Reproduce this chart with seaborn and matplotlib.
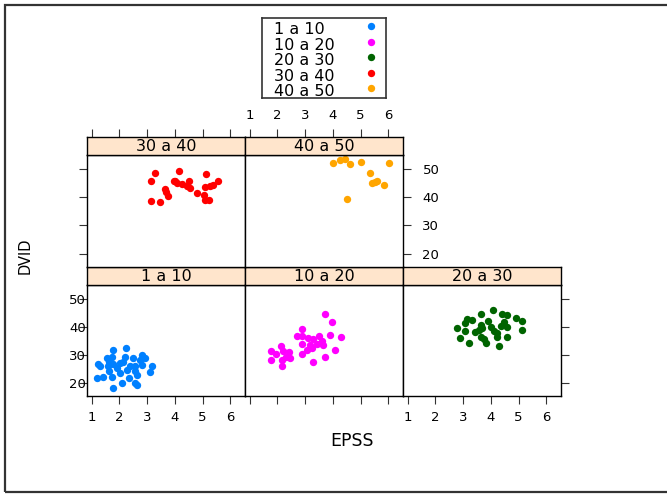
import pandas as pd
import matplotlib
matplotlib.use("Agg")
import matplotlib.pyplot as plt
from matplotlib.patches import Rectangle
import seaborn as sns

sns.set_style("white")
plt.rcParams["font.family"] = ["DejaVu Sans"]
plt.rcParams["text.color"] = "black"

# groups and lattice default colours
groups = ["1 a 10", "10 a 20", "20 a 30", "30 a 40", "40 a 50"]
colors = ["#0080FF", "#FF00FF", "#006400", "#FF0000", "#FFA500"]

# values
epss_1a10 = [1.78, 2.24, 2.80, 1.72, 1.54, 1.24, 1.30, 1.64, 1.78, 2.02, 2.38, 2.56,
             2.80, 3.17, 1.64, 2.02, 2.26, 2.56, 2.62, 3.10, 1.18, 1.42, 1.72, 2.08,
             2.56, 2.62, 1.78, 2.20, 2.50, 1.90, 2.36, 1.60, 2.74, 2.14, 2.92]
dvid_1a10 = [31.7, 32.3, 30.0, 29.4, 28.8, 26.7, 26.1, 27.6, 26.7, 27.1, 26.1, 25.9,
             26.5, 26.2, 24.3, 23.5, 24.7, 24.1, 22.9, 23.9, 21.8, 22.0, 22.3, 20.0,
             20.0, 19.4, 18.2, 29.4, 28.8, 25.3, 21.8, 25.9, 28.2, 27.6, 28.8]

epss_10a20 = [3.71, 3.98, 2.87, 2.69, 2.90, 3.11, 3.29, 3.50, 3.89, 4.31, 2.87, 3.17,
              3.43, 3.65, 3.59, 4.07, 3.71, 3.29, 2.14, 2.20, 1.78, 1.94, 2.42, 2.32,
              2.44, 1.78, 2.18, 2.18, 3.05, 2.87, 3.23]
dvid_10a20 = [44.5, 41.6, 39.3, 36.6, 36.8, 36.1, 35.6, 36.8, 37.2, 36.5, 33.9, 33.5,
              33.8, 33.5, 34.9, 31.9, 29.4, 27.6, 33.3, 31.4, 31.2, 30.2, 30.9, 29.4,
              29.0, 28.2, 28.2, 25.9, 31.8, 30.2, 32.4]

epss_20a30 = [4.08, 3.63, 4.41, 4.59, 3.14, 3.32, 3.89, 4.89, 5.13, 3.08, 3.63, 3.69,
              3.99, 4.35, 4.59, 2.78, 3.08, 3.41, 4.10, 4.23, 5.13, 2.90, 3.63, 3.75,
              4.23, 4.59, 3.20, 3.84, 4.29, 4.47, 3.57]
dvid_20a30 = [46.1, 44.5, 44.5, 44.1, 42.9, 42.3, 42.1, 43.2, 42.1, 41.2, 40.6, 39.4,
              40.0, 40.2, 40.0, 39.4, 38.6, 38.2, 38.6, 37.6, 39.0, 35.9, 36.4, 35.6,
              36.4, 36.4, 34.3, 34.1, 33.3, 41.7, 38.8]

epss_30a40 = [3.29, 4.14, 5.13, 3.13, 4.02, 3.96, 4.08, 4.50, 4.44, 4.56, 5.55, 5.39,
              5.27, 5.07, 3.64, 3.69, 3.76, 3.13, 3.45, 4.80, 5.04, 5.07, 5.24, 4.26]
dvid_30a40 = [48.5, 49.0, 48.0, 45.5, 45.8, 45.5, 45.0, 45.5, 44.0, 43.1, 45.5, 44.3,
              43.8, 43.4, 42.9, 41.7, 40.5, 38.7, 38.1, 41.3, 40.7, 39.0, 39.0, 44.6]

epss_40a50 = [4.01, 4.25, 4.44, 4.61, 5.02, 6.01, 5.35, 5.42, 5.60, 5.51, 5.86, 4.52]
dvid_40a50 = [52.0, 52.9, 53.3, 51.5, 52.3, 52.0, 48.5, 44.8, 45.7, 45.2, 44.4, 39.4]

xticks = [1, 2, 3, 4, 5, 6]
yticks = [20, 30, 40, 50]

df = pd.concat([
    pd.DataFrame({"EPSS": epss_1a10, "DVID": dvid_1a10, "grupo": "1 a 10"}),
    pd.DataFrame({"EPSS": epss_10a20, "DVID": dvid_10a20, "grupo": "10 a 20"}),
    pd.DataFrame({"EPSS": epss_20a30, "DVID": dvid_20a30, "grupo": "20 a 30"}),
    pd.DataFrame({"EPSS": epss_30a40, "DVID": dvid_30a40, "grupo": "30 a 40"}),
    pd.DataFrame({"EPSS": epss_40a50, "DVID": dvid_40a50, "grupo": "40 a 50"}),
], ignore_index=True)

W, H = 667, 494
fig = plt.figure(figsize=(W / 100, H / 100), dpi=100)


def rect(x0, y0, x1, y1):
    return [x0 / W, 1 - y1 / H, (x1 - x0) / W, (y1 - y0) / H]


col_x = [87, 245, 403, 561]
# (panel top, panel bottom, strip top) for bottom row (0) and top row (1)
row_y = {0: (285, 396, 267), 1: (155, 267, 137)}
layout = {"1 a 10": (0, 0), "10 a 20": (1, 0), "20 a 30": (2, 0),
          "30 a 40": (0, 1), "40 a 50": (1, 1)}
xlim = (0.83, 6.53)
ylim = (15.4, 54.8)
tick_kw = dict(direction="out", length=6, width=0.8, color="#333333",
               labelcolor="black", labelsize=9.5)

for g, colr in zip(groups, colors):
    c, r = layout[g]
    py0, py1, sy0 = row_y[r]
    ax = fig.add_axes(rect(col_x[c], py0, col_x[c + 1], py1))
    sns.scatterplot(data=df[df["grupo"] == g], x="EPSS", y="DVID", color=colr,
                    s=28, linewidth=0, ax=ax)
    ax.set_xlim(xlim)
    ax.set_ylim(ylim)
    ax.set_xticks(xticks)
    ax.set_yticks(yticks)
    ax.set_xlabel("")
    ax.set_ylabel("")
    for sp in ax.spines.values():
        sp.set_color("black")
        sp.set_linewidth(1)
    ax.tick_params(axis="both", **tick_kw)
    ax.tick_params(axis="x", bottom=(r == 0), labelbottom=(r == 0 and c != 1),
                   top=False, labeltop=False, pad=5)
    ax.tick_params(axis="y", left=(c == 0), labelleft=(c == 0 and r == 0),
                   right=(c == 2 or (r == 1 and c == 1)),
                   labelright=(r == 1 and c == 1))
    if c == 0:
        ax.tick_params(axis="y", pad=-5.3)
    else:
        ax.tick_params(axis="y", pad=8)

    # strip
    sax = fig.add_axes(rect(col_x[c], sy0, col_x[c + 1], py0))
    sax.set_facecolor("#FFE5CC")
    sax.set_xlim(xlim)
    sax.set_yticks([])
    sax.set_xticks(xticks)
    for sp in sax.spines.values():
        sp.set_color("black")
        sp.set_linewidth(1)
    sax.tick_params(axis="x", **tick_kw)
    sax.tick_params(axis="x", bottom=False, labelbottom=False,
                    top=(r == 1), labeltop=(r == 1 and c == 1), pad=4.5)
    sax.text(0.5, 0.45, g, transform=sax.transAxes, ha="center", va="center",
             fontsize=11.5)

fig.text(352 / W, 1 - 441 / H, "EPSS", ha="center", va="center", fontsize=12.5)
fig.text(25 / W, 1 - 256 / H, "DVID", ha="center", va="center", rotation=90,
         fontsize=10.5)

# legend (text left, symbol right)
lax = fig.add_axes(rect(262, 18, 386, 98))
lax.set_xlim(262, 386)
lax.set_ylim(98, 18)
lax.set_xticks([])
lax.set_yticks([])
for sp in lax.spines.values():
    sp.set_color("#333333")
    sp.set_linewidth(1.2)
for i, (g, colr) in enumerate(zip(groups, colors)):
    base = 34 + i * 15.6
    lax.text(274, base, g, ha="left", va="baseline", fontsize=11.5)
    lax.scatter([370.5], [base - 8], color=colr, s=28, linewidth=0)

# outer frame
fig.patches.append(Rectangle((5 / W, 2 / H), 1.0, 1 - 7 / H, transform=fig.transFigure,
                             fill=False, edgecolor="#333333", linewidth=1.6))

fig.savefig("out.png", dpi=100)
